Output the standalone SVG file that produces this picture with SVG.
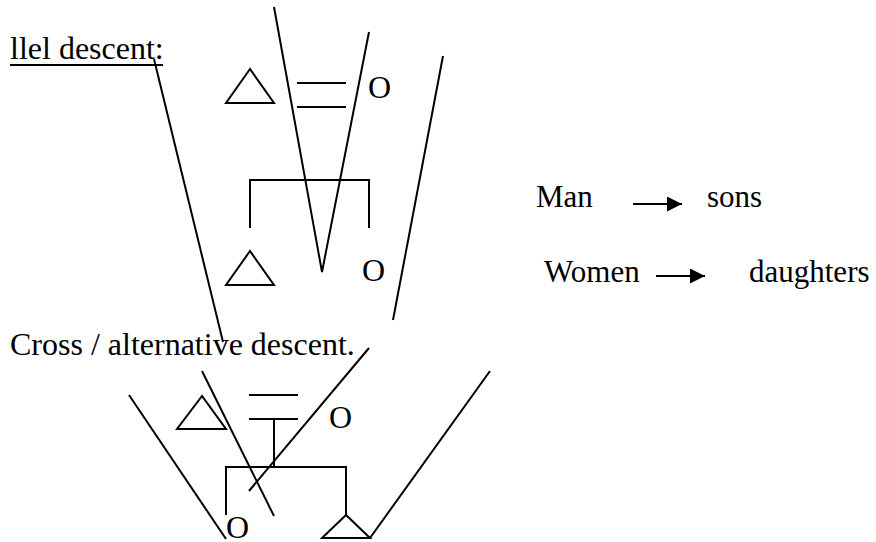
<svg xmlns="http://www.w3.org/2000/svg" width="876" height="542" viewBox="0 0 876 542">
<defs>
<style>
text{font-family:"Liberation Serif","Times New Roman",serif;font-size:32px;fill:#000}
.lg{font-size:31px}
.ln{stroke:#000;stroke-width:2;fill:none}
.tri{stroke:#000;stroke-width:2;fill:none;stroke-linejoin:miter}
</style>
<marker id="ah" markerWidth="15" markerHeight="15" refX="15" refY="7.5" orient="auto" markerUnits="userSpaceOnUse" viewBox="0 0 15 15">
<path d="M0,0 L15,7.5 L0,15 z" fill="#000"/>
</marker>
</defs>
<rect width="876" height="542" fill="#fff"/>
<g id="title-parallel"><text x="10" y="59">llel descent:</text><line class="ln" x1="10" y1="65" x2="163" y2="65"/></g>
<g id="title-cross"><text x="10" y="355">Cross / alternative descent.</text></g>
<g id="p-father"><polygon class="tri" points="250,69 226,103 274,103"/></g>
<g id="p-mother"><text x="368" y="98">O</text></g>
<g id="p-son"><polygon class="tri" points="250,251 226,285 274,285"/></g>
<g id="p-daughter"><text x="362" y="281">O</text></g>
<g id="c-father"><polygon class="tri" points="202,396 177,429 226,429"/></g>
<g id="c-mother"><text x="329" y="428">O</text></g>
<g id="c-daughter"><text x="226" y="538">O</text></g>
<g id="c-son"><polygon class="tri" points="346,515 322,538 370,538"/></g>
<g id="legend-man"><text class="lg" x="536" y="207">Man</text><text class="lg" x="707" y="207">sons</text></g>
<g id="legend-women"><text class="lg" x="544" y="282">Women</text><text class="lg" x="749" y="282">daughters</text></g>
<g id="connectors">
<line class="ln" x1="297" y1="83" x2="346" y2="83"/>
<line class="ln" x1="297" y1="107" x2="346" y2="107"/>
<polyline class="ln" points="250,228 250,180 369,180 369,228"/>
<line class="ln" x1="154" y1="59" x2="223" y2="342"/>
<polyline class="ln" points="274,7 322,272 369,32"/>
<line class="ln" x1="443" y1="56" x2="393" y2="320"/>
<line class="ln" x1="249" y1="395" x2="298" y2="395"/>
<line class="ln" x1="249" y1="419" x2="298" y2="419"/>
<line class="ln" x1="274" y1="419" x2="274" y2="467"/>
<polyline class="ln" points="226,515 226,467 346,467 346,515"/>
<line class="ln" x1="369" y1="348" x2="249" y2="491"/>
<line class="ln" x1="202" y1="371" x2="274" y2="516"/>
<line class="ln" x1="129" y1="395" x2="226" y2="539"/>
<line class="ln" x1="490" y1="371" x2="370" y2="538"/>
<line class="ln" x1="633" y1="204" x2="682" y2="204" marker-end="url(#ah)"/>
<line class="ln" x1="656" y1="276" x2="705" y2="276" marker-end="url(#ah)"/>
</g>
</svg>
